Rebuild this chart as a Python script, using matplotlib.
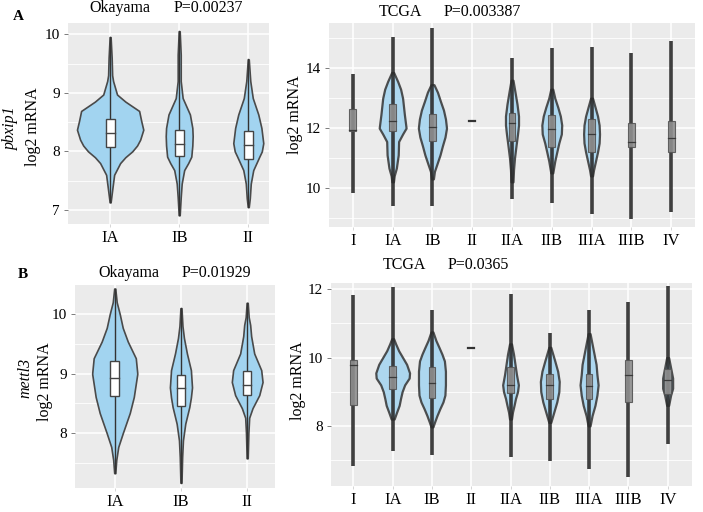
import matplotlib
matplotlib.use('Agg')
import matplotlib.pyplot as plt

plt.rcParams['font.family'] = ['Liberation Serif', 'DejaVu Serif']

# ---- data ----
oka_stages = ['IA', 'IB', 'II']
tcga_stages = ['I', 'IA', 'IB', 'II', 'IIA', 'IIB', 'IIIA', 'IIIB', 'IV']

# box stats per stage: [min, q1, median, q3, max]
oka_a_box = [[7.13, 8.08, 8.32, 8.55, 9.95],
             [6.91, 7.92, 8.13, 8.37, 10.05],
             [7.05, 7.87, 8.11, 8.34, 9.57]]
oka_b_box = [[7.33, 8.63, 8.93, 9.21, 10.43],
             [7.17, 8.45, 8.76, 8.98, 10.10],
             [7.58, 8.64, 8.81, 9.04, 10.19]]
tcga_a_box = [[9.82, 11.91, 11.95, 12.64, 13.81],
              [9.40, 11.91, 12.24, 12.80, 15.04],
              [9.40, 11.57, 12.05, 12.48, 15.33],
              [12.22, 12.22, 12.22, 12.22, 12.22],
              [9.63, 11.57, 12.17, 12.50, 14.35],
              [9.48, 11.35, 11.98, 12.45, 14.69],
              [9.11, 11.20, 11.80, 12.30, 14.72],
              [8.96, 11.35, 11.53, 12.17, 14.52],
              [9.18, 11.19, 11.66, 12.24, 14.91]]
tcga_b_box = [[6.82, 8.61, 9.77, 9.94, 11.82],
              [7.26, 9.09, 9.43, 9.75, 12.05],
              [7.14, 8.83, 9.24, 9.71, 11.40],
              [10.29, 10.29, 10.29, 10.29, 10.29],
              [7.09, 8.97, 9.19, 9.71, 11.87],
              [6.98, 8.80, 9.19, 9.53, 10.72],
              [6.73, 8.80, 9.16, 9.53, 11.38],
              [6.49, 8.70, 9.48, 9.92, 11.63],
              [7.46, 8.93, 9.34, 9.66, 12.08]]

# violin outlines: (log2 levels, half width in category units)
oka_a_violin = {
    'IA': ([9.95, 9.6, 9.3, 9.2, 8.97, 8.85, 8.69, 8.52, 8.37, 8.2, 8.1, 8.0, 7.9, 7.8, 7.6, 7.4, 7.13],
           [0.007, 0.022, 0.029, 0.043, 0.10, 0.22, 0.42, 0.45, 0.48, 0.435, 0.39, 0.32, 0.22, 0.145, 0.058, 0.036, 0.007]),
    'IB': ([10.05, 9.65, 9.2, 8.91, 8.63, 8.4, 8.26, 8.1, 7.91, 7.8, 7.68, 7.45, 7.22, 6.91],
           [0.007, 0.022, 0.022, 0.05, 0.155, 0.19, 0.195, 0.19, 0.175, 0.13, 0.072, 0.036, 0.022, 0.007]),
    'II': ([9.57, 9.2, 8.91, 8.63, 8.4, 8.14, 8.0, 7.91, 7.68, 7.45, 7.2, 7.05],
           [0.007, 0.029, 0.065, 0.145, 0.19, 0.217, 0.196, 0.16, 0.072, 0.036, 0.022, 0.007]),
}
oka_b_violin = {
    'IA': ([10.43, 10.2, 10.0, 9.77, 9.54, 9.26, 9.0, 8.61, 8.34, 8.0, 7.77, 7.55, 7.33],
           [0.008, 0.03, 0.076, 0.121, 0.197, 0.318, 0.341, 0.288, 0.227, 0.121, 0.053, 0.023, 0.008]),
    'IB': ([10.1, 9.8, 9.6, 9.34, 9.06, 8.77, 8.6, 8.44, 8.16, 7.88, 7.6, 7.17],
           [0.008, 0.023, 0.045, 0.09, 0.15, 0.167, 0.15, 0.126, 0.065, 0.03, 0.018, 0.008]),
    'II': ([10.19, 9.95, 9.82, 9.63, 9.34, 9.06, 8.86, 8.64, 8.42, 8.26, 8.0, 7.58],
           [0.008, 0.023, 0.045, 0.06, 0.106, 0.212, 0.232, 0.182, 0.08, 0.03, 0.018, 0.008]),
}
tcga_a_violin = {
    'IA': ([13.86, 13.56, 13.3, 13.0, 12.45, 12.0, 11.8, 11.55, 11.1, 10.66, 10.4, 10.2],
           [0.025, 0.126, 0.2, 0.25, 0.295, 0.338, 0.25, 0.15, 0.14, 0.093, 0.038, 0.02]),
    'IB': ([13.45, 13.2, 12.9, 12.6, 12.3, 12.0, 11.7, 11.4, 11.1, 10.8, 10.55, 10.3],
           [0.038, 0.126, 0.2, 0.278, 0.328, 0.354, 0.316, 0.25, 0.19, 0.114, 0.05, 0.025]),
    'IIA': ([13.6, 13.2, 12.8, 12.4, 12.1, 11.8, 11.4, 11.0, 10.6, 10.2],
            [0.025, 0.076, 0.126, 0.164, 0.164, 0.139, 0.1, 0.063, 0.038, 0.025]),
    'IIB': ([13.3, 13.0, 12.7, 12.4, 12.1, 11.8, 11.5, 11.2, 10.9, 10.5],
            [0.025, 0.076, 0.15, 0.215, 0.25, 0.24, 0.177, 0.126, 0.076, 0.025]),
    'IIIA': ([13.0, 12.7, 12.4, 12.1, 11.8, 11.5, 11.2, 10.9, 10.6, 10.4],
             [0.025, 0.088, 0.15, 0.19, 0.2, 0.19, 0.15, 0.1, 0.05, 0.025]),
}
tcga_b_violin = {
    'IA': ([10.55, 10.4, 10.2, 10.0, 9.8, 9.55, 9.4, 9.2, 9.0, 8.8, 8.6, 8.4, 8.2],
           [0.025, 0.076, 0.152, 0.254, 0.355, 0.43, 0.42, 0.305, 0.24, 0.2, 0.165, 0.1, 0.038]),
    'IB': ([10.75, 10.5, 10.3, 10.1, 9.9, 9.6, 9.2, 8.9, 8.7, 8.5, 8.3, 8.1, 7.97],
           [0.025, 0.1, 0.178, 0.254, 0.317, 0.343, 0.343, 0.33, 0.28, 0.2, 0.127, 0.063, 0.025]),
    'IIA': ([10.4, 10.1, 9.8, 9.5, 9.2, 9.0, 8.8, 8.6, 8.4, 8.2],
            [0.025, 0.076, 0.114, 0.152, 0.2, 0.178, 0.127, 0.09, 0.05, 0.025]),
    'IIB': ([10.3, 10.1, 9.9, 9.6, 9.3, 9.0, 8.7, 8.5, 8.3, 8.1],
            [0.025, 0.076, 0.127, 0.2, 0.24, 0.23, 0.178, 0.127, 0.076, 0.025]),
    'IIIA': ([10.7, 10.4, 10.1, 9.8, 9.5, 9.2, 8.9, 8.6, 8.3, 8.0],
             [0.025, 0.076, 0.127, 0.178, 0.2, 0.23, 0.2, 0.15, 0.076, 0.025]),
    'IV': ([10.0, 9.7, 9.4, 9.1, 8.9, 8.6],
           [0.025, 0.076, 0.127, 0.127, 0.076, 0.025]),
}

BLUE = '#a2d4f0'
W, H = 703, 512


def px_axes(fig, x0, y0, x1, y1):
    return fig.add_axes([x0 / W, 1 - y1 / H, (x1 - x0) / W, (y1 - y0) / H])


def style_axes(ax, labels, xlim, ylim, major, minor):
    ax.set_facecolor('#ebebeb')
    for s in ax.spines.values():
        s.set_visible(False)
    ax.set_xlim(*xlim)
    ax.set_ylim(*ylim)
    ax.set_xticks(range(1, len(labels) + 1))
    ax.set_xticklabels(labels, fontsize=12)
    ax.set_yticks(major)
    ax.set_yticklabels([str(v) for v in major], fontsize=11)
    ax.set_yticks(minor, minor=True)
    ax.grid(True, which='major', color='white', lw=1.1)
    ax.grid(True, which='minor', axis='y', color='white', lw=0.6)
    ax.set_axisbelow(True)
    ax.tick_params(axis='both', which='major', length=3, width=0.6, color='#666666', pad=3)
    ax.tick_params(axis='y', which='minor', length=0)
    ax.tick_params(axis='x', length=2, color='#cfcfcf', pad=2.5)


def draw_okayama(ax, stages, box, violin):
    for i, st in enumerate(stages):
        x = i + 1
        lv, wd = violin[st]
        ax.fill_betweenx(lv, [x - w for w in wd], [x + w for w in wd],
                         facecolor=BLUE, edgecolor='#4a4a4a', lw=1.2, zorder=2)
        lo, q1, med, q3, hi = box[i]
        ax.plot([x, x], [lo, hi], color='#333333', lw=1.0, zorder=3)
        ax.add_patch(plt.Rectangle((x - 0.065, q1), 0.13, q3 - q1, facecolor='white',
                                   edgecolor='#444444', lw=1.0, zorder=4))
        ax.plot([x - 0.065, x + 0.065], [med, med], color='#444444', lw=1.0, zorder=5)


def draw_tcga(ax, stages, box, violin):
    for i, st in enumerate(stages):
        x = i + 1
        lo, q1, med, q3, hi = box[i]
        if hi - lo < 1e-6:
            ax.plot([x - 0.07, x + 0.07], [med, med], color='#333333', lw=1.6, zorder=5)
            continue
        if st in violin:
            lv, wd = violin[st]
            ax.fill_betweenx(lv, [x - w for w in wd], [x + w for w in wd],
                             facecolor=BLUE, edgecolor='#333333', lw=1.6, alpha=0.85, zorder=2)
        ax.plot([x, x], [lo, hi], color='#2b2b2b', lw=2.6, alpha=0.9,
                solid_capstyle='butt', zorder=3)
        ax.add_patch(plt.Rectangle((x - 0.085, q1), 0.17, q3 - q1, facecolor='#8f8f8f',
                                   edgecolor='#555555', lw=0.8, alpha=0.9, zorder=4))
        ax.plot([x - 0.085, x + 0.085], [med, med], color='#3a3a3a', lw=0.9, zorder=5)


fig = plt.figure(figsize=(7.03, 5.12), dpi=100)

ax1 = px_axes(fig, 68, 22.5, 269, 224)
draw_okayama(ax1, oka_stages, oka_a_box, oka_a_violin)
style_axes(ax1, oka_stages, (0.39, 3.3), (6.76, 10.2), [7, 8, 9, 10], [7.5, 8.5, 9.5])

ax2 = px_axes(fig, 329, 22.5, 695, 227)
draw_tcga(ax2, tcga_stages, tcga_a_box, tcga_a_violin)
style_axes(ax2, tcga_stages, (0.4, 9.6), (8.69, 15.53), [10, 12, 14], [9, 11, 13, 15])

ax3 = px_axes(fig, 75, 285, 275, 488)
draw_okayama(ax3, oka_stages, oka_b_box, oka_b_violin)
style_axes(ax3, oka_stages, (0.4, 3.42), (7.08, 10.49), [8, 9, 10], [7.5, 8.5, 9.5])

ax4 = px_axes(fig, 331, 282.7, 692, 486)
draw_tcga(ax4, tcga_stages, tcga_b_box, tcga_b_violin)
style_axes(ax4, tcga_stages, (0.43, 9.62), (6.24, 12.19), [8, 10, 12], [7, 9, 11])


def ftext(x, y, s, **kw):
    fig.text(x / W, 1 - y / H, s, ha='center', va='center', **kw)


ftext(18, 17, 'A', fontsize=11, fontweight='bold')
ftext(23, 275, 'B', fontsize=11, fontweight='bold')
ftext(120, 8, 'Okayama', fontsize=11.5)
ftext(208, 8, 'P=0.00237', fontsize=11.5)
ftext(129, 273, 'Okayama', fontsize=11.5)
ftext(216, 273, 'P=0.01929', fontsize=11.5)
ftext(400, 12, 'TCGA', fontsize=11.5)
ftext(482, 12, 'P=0.003387', fontsize=11.5)
ftext(404, 265, 'TCGA', fontsize=11.5)
ftext(478, 265, 'P=0.0365', fontsize=11.5)

ftext(33, 127, 'log2 mRNA', fontsize=11.5, rotation=90)
ftext(11, 128, 'pbxip1', fontsize=11.5, rotation=90, style='italic')
ftext(45, 382, 'log2 mRNA', fontsize=11.5, rotation=90)
ftext(25, 378, 'mettl3', fontsize=11.5, rotation=90, style='italic')
ftext(295, 115, 'log2 mRNA', fontsize=11.5, rotation=90)
ftext(298, 381, 'log2 mRNA', fontsize=11.5, rotation=90)

fig.savefig('out.png', dpi=100)
